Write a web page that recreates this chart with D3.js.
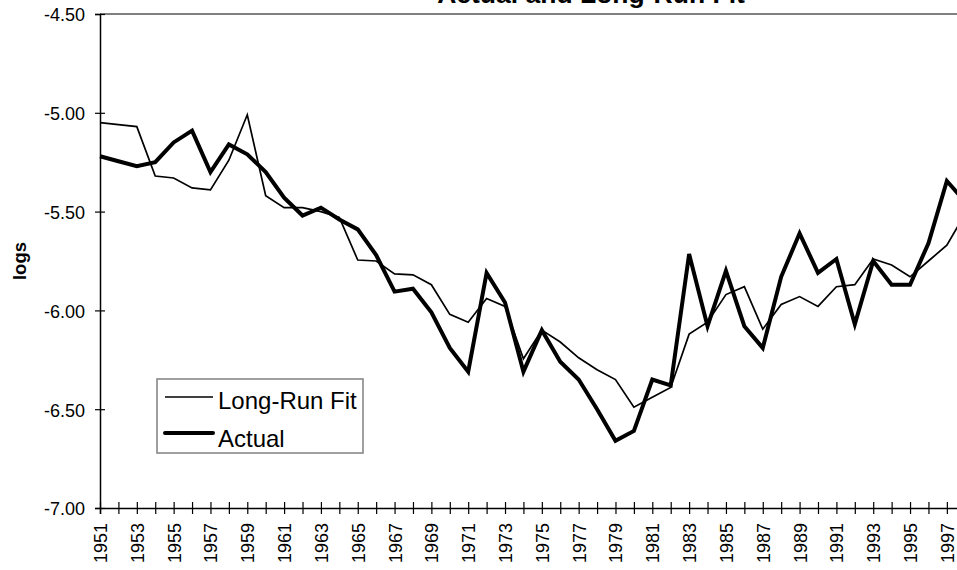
<!DOCTYPE html>
<html>
<head>
<meta charset="utf-8">
<script src="https://cdn.jsdelivr.net/npm/d3@7"></script>
<style>
  html, body { margin: 0; padding: 0; background: #fff; overflow: hidden; }
  svg { display: block; font-family: Arial, "Liberation Sans", sans-serif; }
</style>
</head>
<body>
<svg width="957" height="570"></svg>
<script>
// years shown on the category axis
const years = d3.range(1951, 1999);

// Actual series (logs)
const actual = [
  -5.22, -5.245, -5.27, -5.25, -5.15, -5.09, -5.30, -5.16, -5.21, -5.30,
  -5.43, -5.52, -5.48, -5.54, -5.59, -5.72, -5.905, -5.89, -6.01, -6.19,
  -6.31, -5.81, -5.96, -6.31, -6.10, -6.26, -6.35, -6.50, -6.66, -6.61,
  -6.35, -6.38, -5.715, -6.08, -5.80, -6.08, -6.19, -5.83, -5.61, -5.81,
  -5.74, -6.07, -5.75, -5.87, -5.87, -5.66, -5.345, -5.45
];

// Long-run fit series (logs)
const fit = [
  -5.05, -5.06, -5.07, -5.32, -5.33, -5.38, -5.39, -5.24, -5.01, -5.42,
  -5.48, -5.48, -5.50, -5.53, -5.745, -5.75, -5.815, -5.82, -5.87, -6.02,
  -6.06, -5.94, -5.98, -6.245, -6.10, -6.16, -6.24, -6.30, -6.35, -6.49,
  -6.44, -6.39, -6.12, -6.06, -5.92, -5.88, -6.095, -5.97, -5.93, -5.98,
  -5.88, -5.87, -5.74, -5.77, -5.83, -5.75, -5.67, -5.51
];

const yTicks = [-7.0, -6.5, -6.0, -5.5, -5.0, -4.5];

const svg = d3.select('svg');
const plotLeft = 100, plotTop = 14, plotBottom = 508;
const step = 18.41;

const x = d3.scaleLinear()
  .domain([1951, 1998])
  .range([plotLeft, plotLeft + step * 47]);
const y = d3.scaleLinear()
  .domain([-7, -4.5])
  .range([plotBottom, plotTop]);

// plot area border (only top visible, gray)
svg.append('line')
  .attr('x1', plotLeft).attr('x2', plotLeft + step * 47 + 10)
  .attr('y1', plotTop).attr('y2', plotTop)
  .attr('stroke', '#808080').attr('stroke-width', 2);

// title, mostly cut off at the top edge
svg.append('text')
  .attr('x', 591).attr('y', 3)
  .attr('text-anchor', 'middle')
  .attr('font-size', 26.5).attr('font-weight', 'bold')
  .text('Actual and Long-Run Fit');

// y axis
const yAxis = svg.append('g')
  .attr('transform', `translate(${plotLeft},0)`)
  .call(d3.axisLeft(y).tickValues(yTicks).tickSize(5).tickPadding(10)
    .tickFormat(d => d.toFixed(2)));
yAxis.select('.domain').attr('stroke', '#000').attr('stroke-width', 1.5);
yAxis.selectAll('.tick line').attr('x1', 5).attr('stroke-width', 1.2);
yAxis.selectAll('.tick text')
  .attr('font-size', 18).attr('font-family', 'Arial, "Liberation Sans", sans-serif')
  .attr('fill', '#000').attr('dy', '0.38em');

// x axis
const xAxis = svg.append('g')
  .attr('transform', `translate(0,${plotBottom})`)
  .call(d3.axisBottom(x).tickValues(years).tickSize(6)
    .tickFormat(d => ((d - 1951) % 2 === 0 ? String(d) : '')));
xAxis.select('.domain').attr('stroke', '#000').attr('stroke-width', 1.5);
xAxis.selectAll('.tick line').attr('y1', -6).attr('stroke-width', 1.2);
xAxis.selectAll('.tick text')
  .attr('font-size', 18).attr('font-family', 'Arial, "Liberation Sans", sans-serif')
  .attr('fill', '#000')
  .attr('text-anchor', 'end')
  .attr('transform', 'rotate(-90)')
  .attr('x', -15).attr('y', 0).attr('dy', '0.36em');

// y axis title
svg.append('text')
  .attr('transform', 'translate(26,261) rotate(-90)')
  .attr('text-anchor', 'middle')
  .attr('font-size', 18.5).attr('font-weight', 'bold')
  .text('logs');

// series lines
const line = d3.line()
  .x((d, i) => x(years[i]))
  .y(d => y(d));

svg.append('path')
  .datum(fit)
  .attr('fill', 'none').attr('stroke', '#000').attr('stroke-width', 1.7)
  .attr('stroke-linejoin', 'miter')
  .attr('d', line);

svg.append('path')
  .datum(actual)
  .attr('fill', 'none').attr('stroke', '#000').attr('stroke-width', 4)
  .attr('stroke-linejoin', 'miter')
  .attr('d', line);

// legend
const legend = svg.append('g');
legend.append('rect')
  .attr('x', 157).attr('y', 379).attr('width', 206).attr('height', 74)
  .attr('fill', '#fff').attr('stroke', '#808080').attr('stroke-width', 1.5);

const legendItems = [
  { label: 'Long-Run Fit', width: 1.7, ly: 397, ty: 409 },
  { label: 'Actual', width: 4, ly: 433, ty: 447 }
];
legendItems.forEach(d => {
  legend.append('line')
    .attr('x1', 165).attr('x2', 213).attr('y1', d.ly).attr('y2', d.ly)
    .attr('stroke', '#000').attr('stroke-width', d.width)
    .attr('stroke-linecap', d.width > 2 ? 'round' : 'butt');
  legend.append('text')
    .attr('x', 218).attr('y', d.ty)
    .attr('font-size', 24)
    .text(d.label);
});
</script>
</body>
</html>
